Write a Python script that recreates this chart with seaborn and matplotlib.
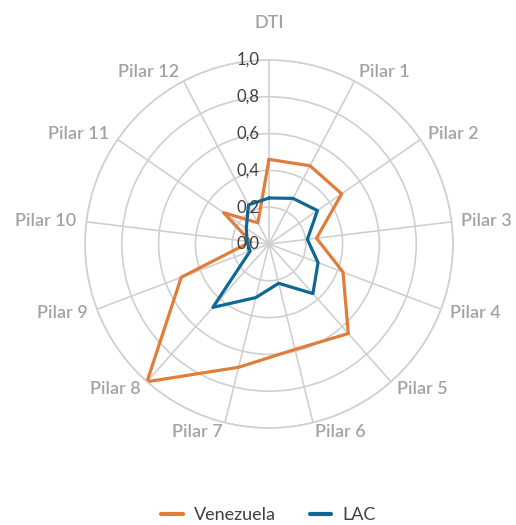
import numpy as np
import pandas as pd
import matplotlib
matplotlib.use("Agg")
import matplotlib.pyplot as plt
import seaborn as sns

categories = ["DTI", "Pilar 1", "Pilar 2", "Pilar 3", "Pilar 4", "Pilar 5", "Pilar 6",
              "Pilar 7", "Pilar 8", "Pilar 9", "Pilar 10", "Pilar 11", "Pilar 12"]
venezuela = [0.46, 0.48, 0.48, 0.26, 0.43, 0.65, 0.59, 0.69, 1.00, 0.51, 0.10, 0.30, 0.13]
lac = [0.25, 0.28, 0.32, 0.21, 0.285, 0.36, 0.22, 0.30, 0.46, 0.11, 0.12, 0.15, 0.24]
series_names = ["Venezuela", "LAC"]
r_ticks = [0.0, 0.2, 0.4, 0.6, 0.8, 1.0]
r_tick_labels = ["0,0", "0,2", "0,4", "0,6", "0,8", "1,0"]
colors = ["#E07D3A", "#0E6896"]

sns.set_style("white")
plt.rcParams["font.family"] = ["Lato", "DejaVu Sans"]

n = len(categories)
theta = np.linspace(0, 2 * np.pi, n, endpoint=False)

rows = []
for name, vals in zip(series_names, [venezuela, lac]):
    closed = list(vals) + [vals[0]]
    th = list(theta) + [theta[0] + 2 * np.pi]
    for i, (t, v) in enumerate(zip(th, closed)):
        rows.append({"theta": t, "value": v, "serie": name, "order": i})
df = pd.DataFrame(rows)

fig = plt.figure(figsize=(5.16, 5.25), dpi=100)
ax = fig.add_axes([85 / 516, 97 / 525, 368 / 516, 368 / 525], projection="polar")
ax.set_theta_zero_location("N")
ax.set_theta_direction(-1)

grid_color = "#D0D0D0"
sns.lineplot(data=df, x="theta", y="value", hue="serie", hue_order=series_names,
             palette=colors, sort=False, estimator=None, linewidth=2.3, ax=ax,
             legend=True)

ax.set_ylim(0, 1.0)
ax.set_rgrids([0.2, 0.4, 0.6, 0.8, 1.0], labels=[])
ax.set_xticks(theta)
ax.set_xticklabels([])
ax.grid(True, color=grid_color, linewidth=1.2)
ax.spines["polar"].set_color(grid_color)
ax.spines["polar"].set_linewidth(1.2)
ax.set_xlabel("")
ax.set_ylabel("")
ax.tick_params(axis="both", length=0)

# radial tick labels
for r, lab in zip(r_ticks, r_tick_labels):
    ax.annotate(lab, xy=(0, r), xytext=(-7, 0), textcoords="offset points",
                ha="right", va="center", fontsize=12, color="#404040")

# category labels
for t, lab in zip(theta, categories):
    s, c = np.sin(t), np.cos(t)
    d = 7.0
    if lab == "DTI":
        d = 27
    if s > 0.05:
        ha = "left"
    elif s < -0.05:
        ha = "right"
    else:
        ha = "center"
    ax.annotate(lab, xy=(t, 1.0), xytext=(d * s, d * c), textcoords="offset points",
                ha=ha, va="center", fontsize=13, fontweight="semibold",
                color="#A3A3A3", annotation_clip=False)

leg = ax.legend(loc="lower center", bbox_to_anchor=(0.52, -0.01),
                bbox_transform=fig.transFigure, ncol=2, frameon=False,
                fontsize=13, handlelength=1.2, handletextpad=0.6,
                columnspacing=1.9, borderaxespad=0.0)
for txt in leg.get_texts():
    txt.set_color("#404040")
for h in leg.legend_handles:
    h.set_linewidth(3)

fig.savefig("out.png", dpi=100)
